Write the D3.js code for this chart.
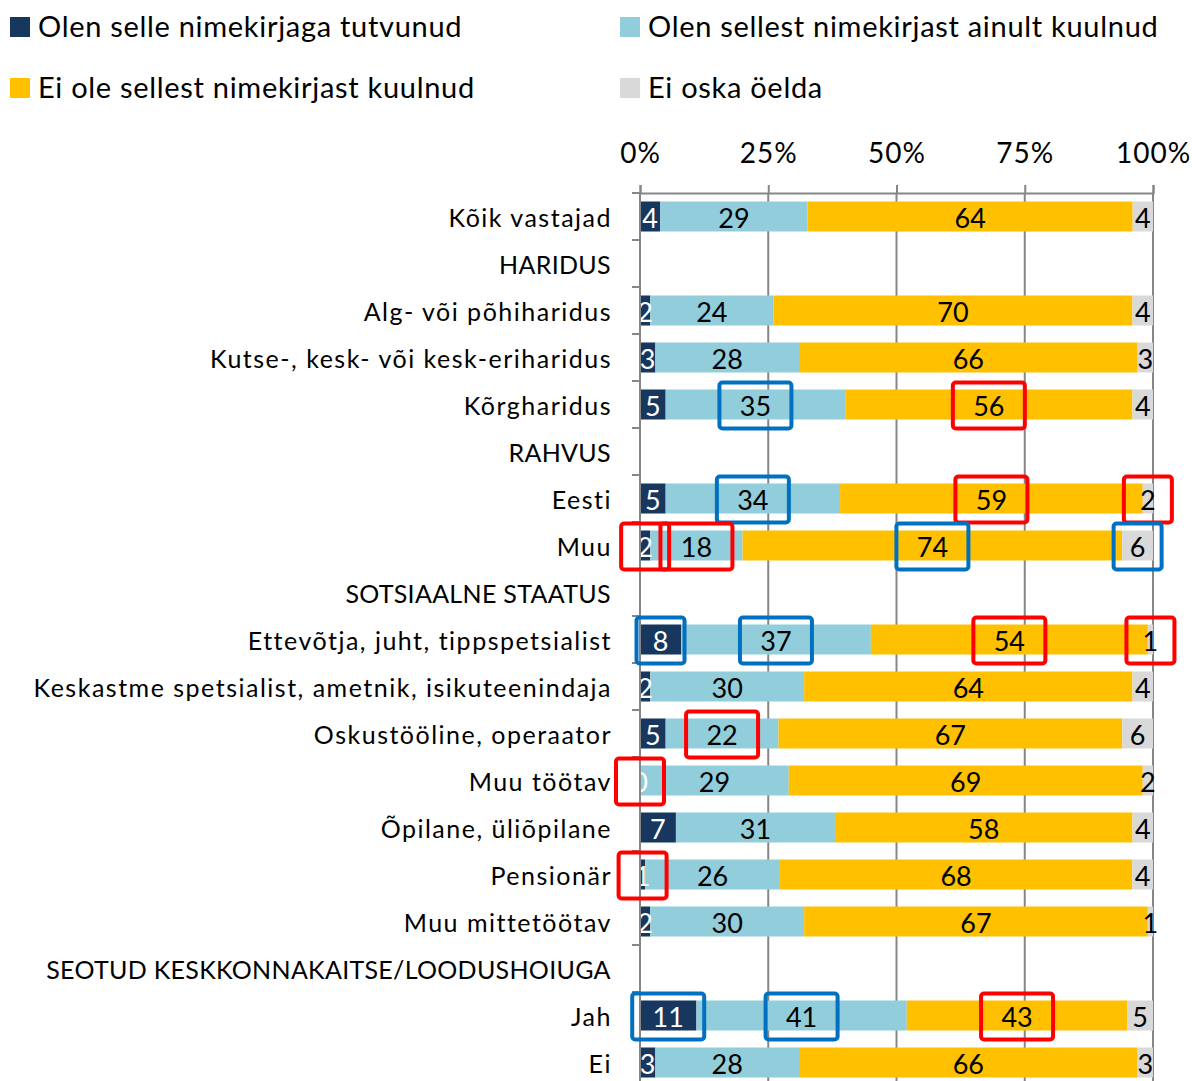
<!DOCTYPE html>
<html><head><meta charset="utf-8">
<script src="https://cdn.jsdelivr.net/npm/d3@7/dist/d3.min.js"></script>
<style>body{margin:0;background:#fff}svg{display:block}text{font-family:Lato,"Open Sans",sans-serif}</style>
</head><body><svg id="c" width="1192" height="1081"></svg>
<script>
const categories = ["Kõik vastajad","HARIDUS","Alg- või põhiharidus","Kutse-, kesk- või kesk-eriharidus","Kõrgharidus","RAHVUS","Eesti","Muu","SOTSIAALNE STAATUS","Ettevõtja, juht, tippspetsialist","Keskastme spetsialist, ametnik, isikuteenindaja","Oskustööline, operaator","Muu töötav","Õpilane, üliõpilane","Pensionär","Muu mittetöötav","SEOTUD KESKKONNAKAITSE/LOODUSHOIUGA","Jah","Ei"];
const seriesNames = ["Olen selle nimekirjaga tutvunud","Olen sellest nimekirjast ainult kuulnud","Ei ole sellest nimekirjast kuulnud","Ei oska öelda"];
const tutvunud = [4,null,2,3,5,null,5,2,null,8,2,5,0,7,1,2,null,11,3];
const kuulnud  = [29,null,24,28,35,null,34,18,null,37,30,22,29,31,26,30,null,41,28];
const eiKuulnud= [64,null,70,66,56,null,59,74,null,54,64,67,69,58,68,67,null,43,66];
const eiOska   = [4,null,4,3,4,null,2,6,null,1,4,6,2,4,4,1,null,5,3];
const tickValues = [0,0.25,0.5,0.75,1];
// highlighted labels: [category, series index, colour]
const highlights = [
  ["Kõrgharidus",1,"blue"],["Kõrgharidus",2,"red"],
  ["Eesti",1,"blue"],["Eesti",2,"red"],["Eesti",3,"red"],
  ["Muu",0,"red"],["Muu",1,"red"],["Muu",2,"blue"],["Muu",3,"blue"],
  ["Ettevõtja, juht, tippspetsialist",0,"blue"],["Ettevõtja, juht, tippspetsialist",1,"blue"],
  ["Ettevõtja, juht, tippspetsialist",2,"red"],["Ettevõtja, juht, tippspetsialist",3,"red"],
  ["Oskustööline, operaator",1,"red"],["Muu töötav",0,"red"],["Pensionär",0,"red"],
  ["Jah",0,"blue"],["Jah",1,"blue"],["Jah",2,"red"]
];

const colors = ["#17375E","#92CDDC","#FFC000","#D9D9D9"];
const hlColors = {red:"#FF0000", blue:"#0070C0"};
const svg = d3.select("#c");
const pL = 640, pR = 1153, pT = 193;
const x = d3.scaleLinear().domain([0,1]).range([pL,pR]);
const y = d3.scaleBand().domain(categories).range([pT, pT + 47*categories.length]).paddingInner(0).paddingOuter(0);
const barH = 30;
const series = [tutvunud,kuulnud,eiKuulnud,eiOska];

const rows = categories.map((c,i)=>{
  const vals = series.map(s=>s[i]);
  if (vals[0]===null) return {c, segs:[]};
  const tot = d3.sum(vals);
  let acc = 0;
  const segs = vals.map((v,k)=>{const s={k,v,x0:acc/tot,x1:(acc+v)/tot}; acc+=v; return s;});
  return {c, segs};
});
const isHeader = c => rows.find(r=>r.c===c).segs.length===0;

// gridlines
svg.append("g").selectAll("line").data(tickValues.slice(1)).join("line")
  .attr("x1",d=>x(d)).attr("x2",d=>x(d)).attr("y1",pT).attr("y2",1081)
  .attr("stroke","#868686").attr("stroke-width",2);

// bars
const bars = svg.append("g");
rows.forEach(r=>{
  const g = bars.append("g").attr("transform",`translate(0,${y(r.c)+y.bandwidth()/2})`);
  g.selectAll("rect").data(r.segs).join("rect")
    .attr("x",d=>x(d.x0)).attr("width",d=>x(d.x1)-x(d.x0))
    .attr("y",-barH/2).attr("height",barH).attr("fill",d=>colors[d.k]);
  g.selectAll("text").data(r.segs).join("text")
    .attr("x",d=>(x(d.x0)+x(d.x1))/2).attr("y",2).attr("dy","0.36em")
    .attr("text-anchor","middle").attr("font-size",27)
    .attr("fill",d=>d.k===0?"#fff":"#000").text(d=>d.v);
});

// top axis
const ax = svg.append("g").attr("transform",`translate(0,${pT})`)
  .call(d3.axisTop(x).tickValues(tickValues).tickFormat(d3.format(".0%")).tickSize(8).tickPadding(22));
ax.select(".domain").attr("stroke","#868686").attr("stroke-width",2);
ax.selectAll(".tick line").attr("stroke","#868686").attr("stroke-width",2);
ax.selectAll(".tick text").attr("font-size",28).attr("letter-spacing","1px").attr("fill","#000").style("font-family","Lato, sans-serif");

// left axis
const ay = svg.append("g").attr("transform",`translate(${pL},0)`)
  .call(d3.axisLeft(y).tickSize(0).tickPadding(28));
ay.select(".domain").remove();
ay.selectAll(".tick text").attr("font-size",25)
  .attr("letter-spacing",d=>isHeader(d)?"0.3px":"1.5px")
  .attr("dx",d=>isHeader(d)?"-1.2px":"0")
  .attr("dy","0.4em").attr("fill","#000").style("font-family","Lato, sans-serif");
svg.append("line").attr("x1",pL).attr("x2",pL).attr("y1",pT).attr("y2",1081).attr("stroke","#868686").attr("stroke-width",2);
svg.append("g").selectAll("line").data(d3.range(categories.length+1)).join("line")
  .attr("x1",pL-8).attr("x2",pL).attr("y1",i=>pT+i*y.step()).attr("y2",i=>pT+i*y.step())
  .attr("stroke","#868686").attr("stroke-width",2);

// highlight boxes
const hl = svg.append("g");
highlights.forEach(([c,k,col])=>{
  const r = rows.find(r=>r.c===c); const s = r.segs[k];
  const cx = (x(s.x0)+x(s.x1))/2, cy = y(c)+y.bandwidth()/2 + 1;
  const w = String(s.v).length>1 ? 72 : 48, h = 46;
  hl.append("rect").attr("x",cx-w/2).attr("y",cy-h/2).attr("width",w).attr("height",h)
    .attr("rx",3).attr("fill","none").attr("stroke",hlColors[col]).attr("stroke-width",4);
});

// legend
const legPos = [[10,27],[620,27],[10,88],[620,88]];
const lg = svg.append("g");
seriesNames.forEach((n,i)=>{
  const [lx,ly] = legPos[i];
  lg.append("rect").attr("x",lx).attr("y",ly-10).attr("width",20).attr("height",20).attr("fill",colors[i]);
  lg.append("text").attr("x",lx+28).attr("y",ly).attr("dy","0.36em").attr("font-size",29).attr("letter-spacing","0.7px").text(n);
});
</script></body></html>
